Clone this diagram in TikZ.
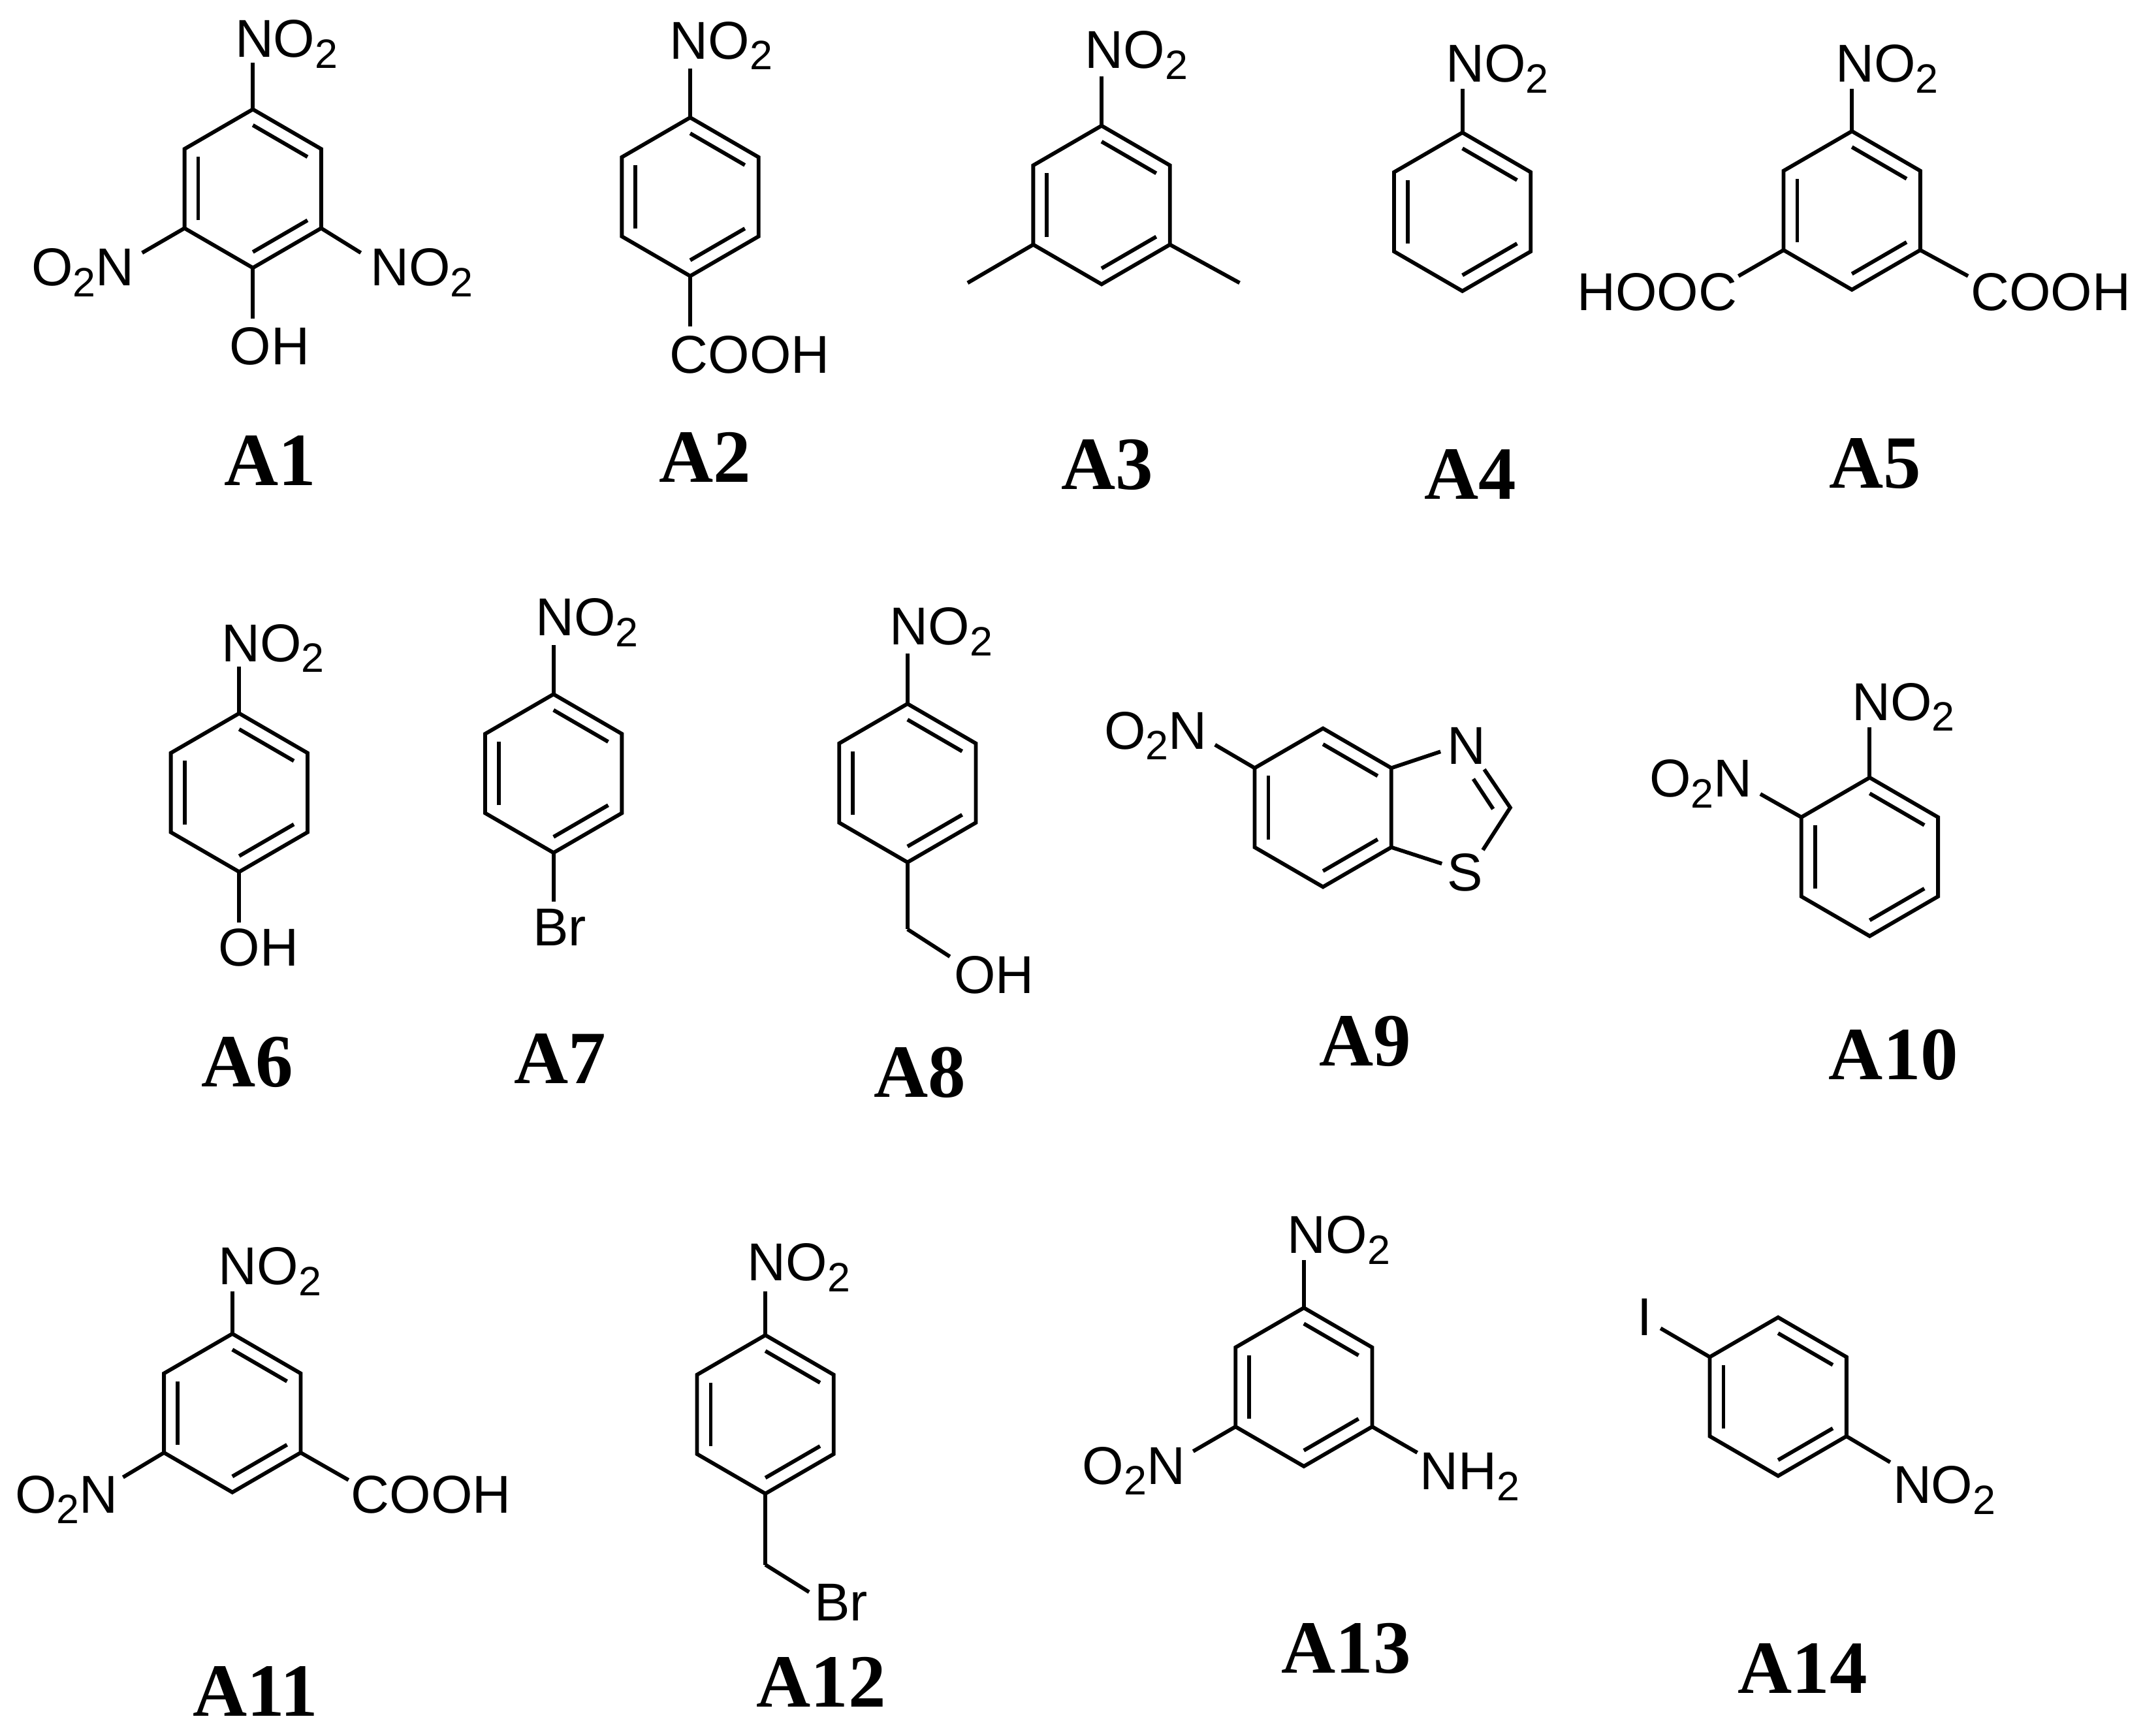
\documentclass[tikz,border=0pt]{standalone}
\usepackage{fontspec}
\setmainfont{Liberation Sans}
\newfontfamily\labelfont{Liberation Serif}[BoldFont={Liberation Serif Bold}]
\newcommand\subn[1]{\raisebox{-4pt}{\fontsize{15}{15}\selectfont #1}}
\newcommand\notwo{NO\subn{2}}
\newcommand\otwon{O\subn{2}N}
\newcommand\nhtwo{NH\subn{2}}
\usetikzlibrary{calc}
\tikzset{
  bondline/.style={line width=1.4pt,line join=miter,line cap=butt,black},
  grp/.style={anchor=base west,inner sep=0pt,outer sep=0pt,font=\fontsize{19.5}{19.5}\selectfont},
  cmpd/.style={anchor=base,inner sep=0pt,outer sep=0pt,font=\labelfont\bfseries\fontsize{27.5}{27.5}\selectfont}
}
% ring{name}{cx}{cy}: pointy-top benzene with three inner double bonds
\newcommand\ring[3]{%
  \coordinate (#1c) at (#2,#3);
  \coordinate (#11) at (#2,#3-58);
  \coordinate (#12) at (#2+50,#3-29);
  \coordinate (#13) at (#2+50,#3+29);
  \coordinate (#14) at (#2,#3+58);
  \coordinate (#15) at (#2-50,#3+29);
  \coordinate (#16) at (#2-50,#3-29);
  \draw[bondline] (#11)--(#12)--(#13)--(#14)--(#15)--(#16)--cycle;
  \draw[bondline] ($(#11)!0.2!(#1c)$)--($(#12)!0.2!(#1c)$);
  \draw[bondline] ($(#13)!0.2!(#1c)$)--($(#14)!0.2!(#1c)$);
  \draw[bondline] ($(#15)!0.2!(#1c)$)--($(#16)!0.2!(#1c)$);
}
% lig{from}{name}{x}{y}: bond from a named atom to a new named free end
\newcommand\lig[4]{\coordinate (#2) at (#3,#4); \draw[bondline] (#1)--(#2);}
\begin{document}
\begin{tikzpicture}[x=0.5pt,y=-0.5pt]
\path[fill=white,use as bounding box] (0,0) rectangle (1568,1270);

% A1
\ring{a}{185}{138}
\lig{a1}{ae1}{185}{46}
\lig{a5}{ae2}{104}{185} \lig{a3}{ae3}{264}{185} \lig{a4}{ae4}{185}{233}
\node[grp] (aNa) at (172,42) {\notwo};
\node[grp] (aNb) at (23,209) {\otwon};
\node[grp] (aNc) at (271,209) {\notwo};
\node[grp] (aOH) at (168,267) {OH};
\node[cmpd] (A1) at (197.5,355) {A1};

% A2
\ring{b}{505}{144}
\lig{b1}{be1}{505}{50} \lig{b4}{be2}{505}{239}
\node[grp] (bN) at (490,43) {\notwo};
\node[grp] (bC) at (490,273) {COOH};
\node[cmpd] (A2) at (516,353) {A2};

% A3
\ring{c}{806}{150}
\lig{c1}{ce1}{806}{56} \lig{c5}{ce2}{708}{207} \lig{c3}{ce3}{907}{207}
\node[grp] (cN) at (794,50) {\notwo};
\node[cmpd] (A3) at (810,358) {A3};

% A4
\ring{d}{1070}{155}
\lig{d1}{de1}{1070}{65}
\node[grp] (dN) at (1058,60) {\notwo};
\node[cmpd] (A4) at (1076,365) {A4};

% A5
\ring{e}{1355}{154}
\lig{e1}{ee1}{1355}{65} \lig{e5}{ee2}{1272}{202} \lig{e3}{ee3}{1440}{202}
\node[grp] (eN) at (1343,60) {\notwo};
\node[grp] (eH) at (1154,227) {HOOC};
\node[grp] (eC) at (1442,227) {COOH};
\node[cmpd] (A5) at (1372,357) {A5};

% A6
\ring{f}{175}{580}
\lig{f1}{fe1}{175}{488} \lig{f4}{fe2}{175}{675}
\node[grp] (fN) at (162,484) {\notwo};
\node[grp] (fO) at (160,707) {OH};
\node[cmpd] (A6) at (181,795) {A6};

% A7
\ring{g}{405}{566}
\lig{g1}{ge1}{405}{472} \lig{g4}{ge2}{405}{660}
\node[grp] (gN) at (392,465) {\notwo};
\node[grp] (gB) at (390,692) {Br};
\node[cmpd] (A7) at (410,793) {A7};

% A8
\ring{h}{664}{573}
\lig{h1}{he1}{664}{478} \lig{h4}{he2}{664}{680} \lig{he2}{he3}{695}{700}
\node[grp] (hN) at (651,472) {\notwo};
\node[grp] (hO) at (698,727) {OH};
\node[cmpd] (A8) at (673,803) {A8};

% A9
\ring{i}{968}{591}
\lig{i6}{ie1}{889}{545} \lig{i2}{ie2}{1054}{550} \lig{i3}{ie3}{1055}{632}
\coordinate (ic2) at (1105,591);
\coordinate (ieN) at (1086,563); \coordinate (ieS) at (1085,622);
\coordinate (ieA) at (1078,570); \coordinate (ieB) at (1092.5,592);
\draw[bondline] (ieN)--(ic2)--(ieS);
\draw[bondline] (ieA)--(ieB);
\node[grp] (iO) at (808,548) {\otwon};
\node[grp] (iN) at (1059,559) {N};
\node[grp] (iS) at (1059,652) {S};
\node[cmpd] (A9) at (999,780) {A9};

% A10
\ring{j}{1368}{627}
\lig{j1}{je1}{1368}{532} \lig{j6}{je2}{1288}{581}
\node[grp] (jN) at (1355,527) {\notwo};
\node[grp] (jO) at (1207,583) {\otwon};
\node[cmpd] (A10) at (1385.5,790) {A10};

% A11
\ring{k}{170}{1034}
\lig{k1}{ke1}{170}{945} \lig{k5}{ke2}{90}{1081} \lig{k3}{ke3}{255}{1083}
\node[grp] (kN) at (160,940) {\notwo};
\node[grp] (kO) at (11,1107) {\otwon};
\node[grp] (kC) at (257,1107) {COOH};
\node[cmpd] (A11) at (187,1256) {A11};

% A12
\ring{l}{560}{1035}
\lig{l1}{le1}{560}{945} \lig{l4}{le2}{560}{1145} \lig{le2}{le3}{592}{1165}
\node[grp] (lN) at (547,937) {\notwo};
\node[grp] (lB) at (596,1186) {Br};
\node[cmpd] (A12) at (601,1249) {A12};

% A13
\ring{m}{954}{1015}
\lig{m1}{me1}{954}{922} \lig{m5}{me2}{873}{1062} \lig{m3}{me3}{1037}{1063}
\node[grp] (mN) at (942,917) {\notwo};
\node[grp] (mO) at (792,1086) {\otwon};
\node[grp] (mH) at (1039,1090) {\nhtwo};
\node[cmpd] (A13) at (985,1224) {A13};

% A14
\ring{n}{1301}{1022}
\lig{n6}{ne1}{1215}{972} \lig{n3}{ne2}{1383}{1070}
\node[grp] (nI) at (1198,977) {I};
\node[grp] (nN) at (1385,1100) {\notwo};
\node[cmpd] (A14) at (1319,1239) {A14};
\end{tikzpicture}
\end{document}
